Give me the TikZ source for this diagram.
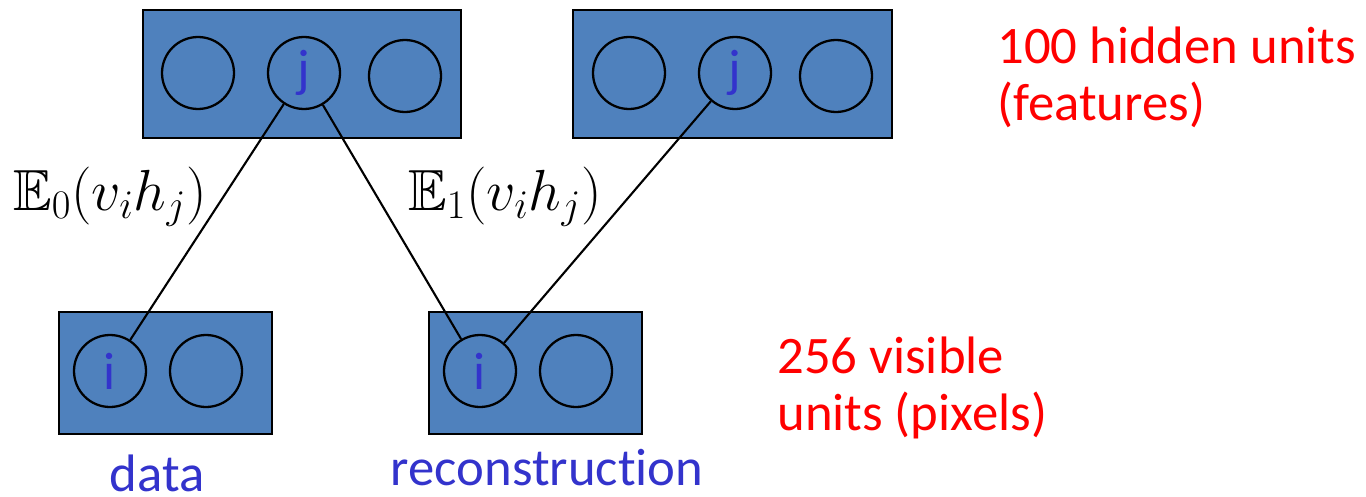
\RequirePackage{fix-cm}
\documentclass[tikz,border=0pt]{standalone}
\usepackage{amssymb}
\usepackage{fontspec}
\setmainfont{Carlito}[Ligatures=NoCommon]
\definecolor{layerblue}{HTML}{4F81BD}
\definecolor{unitblue}{HTML}{3333CC}
\definecolor{notered}{HTML}{FF0000}
\begin{document}
\begin{tikzpicture}[x=0.02cm,y=-0.02cm,
  layerbox/.style={draw=black,fill=layerblue,line width=1.4pt},
  unitnode/.style={circle,draw=black,line width=1.3pt,minimum size=1.44cm,inner sep=0pt,text=unitblue,font=\fontsize{30}{36}\selectfont},
  weight/.style={line width=1.2pt},
  note/.style={text=notered,font=\fontsize{30}{36}\selectfont,anchor=base west,inner sep=0pt},
  caption/.style={text=unitblue,font=\fontsize{30}{36}\selectfont,anchor=base,inner sep=0pt},
  stat/.style={font=\fontsize{33}{39}\selectfont,anchor=base,inner sep=0pt}]
  \useasboundingbox (0,0) rectangle (1366,497);
  % hidden layers
  \draw[layerbox] (143,10) rectangle (461,138);
  \draw[layerbox] (573,10) rectangle (892,138);
  \node[unitnode] (h1) at (198,73) {};
  \node[unitnode] (j0) at (304,73) {j};
  \node[unitnode] (h3) at (405,76) {};
  \node[unitnode] (h4) at (629,73) {};
  \node[unitnode] (j1) at (735,73) {j};
  \node[unitnode] (h6) at (836,76) {};
  % visible layers
  \draw[layerbox] (59,312) rectangle (272,434);
  \draw[layerbox] (429,312) rectangle (642,434);
  \node[unitnode] (i0) at (110,371) {i};
  \node[unitnode] (v2) at (206,371) {};
  \node[unitnode] (i1) at (480,371) {i};
  \node[unitnode] (v4) at (576,371) {};
  % weights
  \draw[weight] (j0) -- (i0);
  \draw[weight] (j0) -- (i1);
  \draw[weight] (j1) -- (i1);
  \node[stat] (e0) at (110,210) {$\mathbb{E}_0(v_ih_j)$};
  \node[stat] (e1) at (505,210) {$\mathbb{E}_1(v_ih_j)$};
  % labels
  \node[caption] (data) at (157,491) {data};
  \node[caption] (recon) at (547,485) {reconstruction};
  \node[note] (hid1) at (997,63) {100 hidden units};
  \node[note] (hid2) at (997,120) {(features)};
  \node[note] (vis1) at (777,373) {256 visible};
  \node[note] (vis2) at (777,430) {units (pixels)};
\end{tikzpicture}
\end{document}
